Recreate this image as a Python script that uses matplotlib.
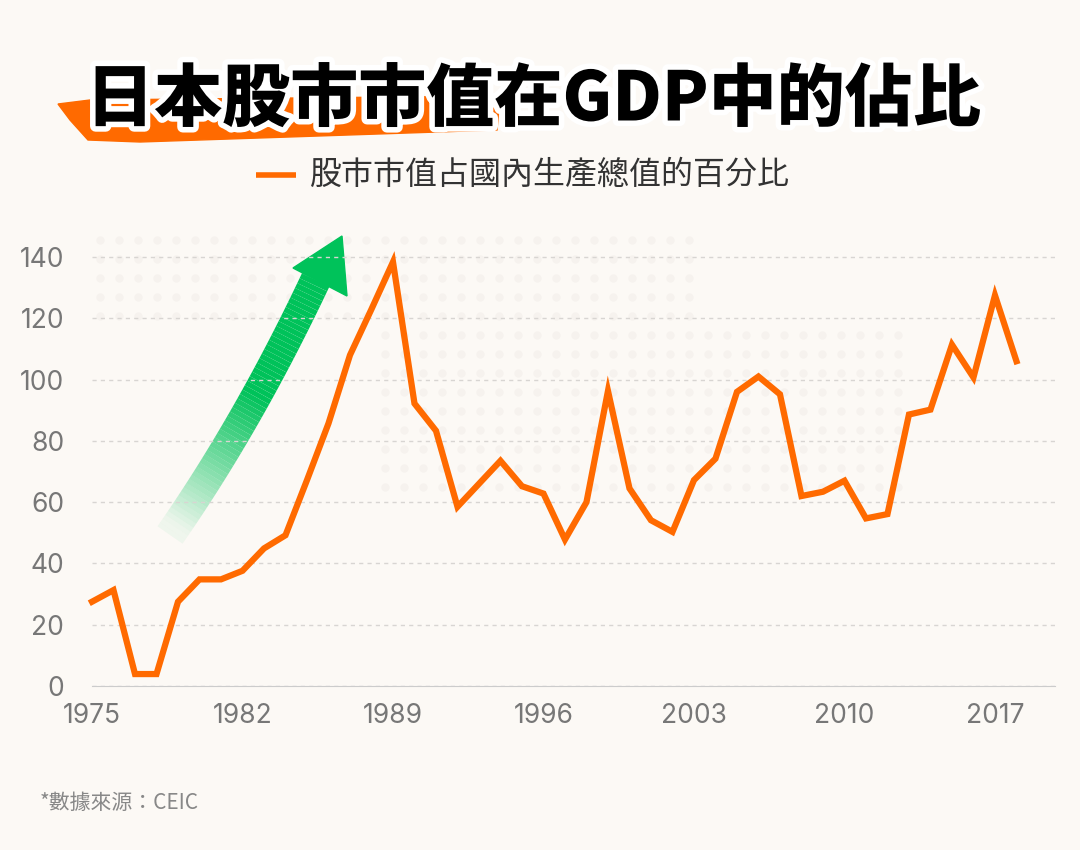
import matplotlib
matplotlib.use("Agg")
import matplotlib.pyplot as plt
import matplotlib.patheffects as pe
from matplotlib import font_manager
import numpy as np
from matplotlib.patches import Polygon

years = list(range(1975, 2019))
values = [27.5, 31.3, 3.9, 3.9, 27.5, 34.8, 34.8, 37.6, 44.9, 49.2,
          67.2, 85.7, 108.0, 123.0, 138.4, 92.2, 83.3, 58.5, 66.0, 73.5,
          65.2, 62.8, 47.8, 60.0, 96.3, 64.5, 54.1, 50.3, 67.2, 74.2,
          96.0, 101.0, 95.2, 62.0, 63.4, 67.0, 54.7, 56.1, 88.6, 90.2,
          111.4, 100.7, 127.5, 106.0]
y_ticks = [0, 20, 40, 60, 80, 100, 120, 140]
x_tick_years = [1975, 1982, 1989, 1996, 2003, 2010, 2017]
title = "日本股市市值在GDP中的佔比"
legend_label = "股市市值占國內生產總值的百分比"
source = "*數據來源：CEIC"

W, H = 1080, 850
BG = "#fcf9f5"
ORANGE = "#ff6a00"
fig = plt.figure(figsize=(W/100, H/100), dpi=100, facecolor=BG)
names = {f.name for f in font_manager.fontManager.ttflist}
font = [n for n in ["Noto Sans CJK TC", "Noto Sans CJK JP", "Noto Sans CJK SC", "Noto Sans CJK KR"] if n in names] + ["DejaVu Sans"]

ov = fig.add_axes([0, 0, 1, 1], zorder=0)
ov.set_xlim(0, W); ov.set_ylim(H, 0); ov.axis("off")
ov.patch.set_alpha(0)
for yy in range(240, 520, 19):
    for xx in range(100, 1000, 19):
        if (yy < 330 and xx < 700) or (yy >= 330 and 380 < xx < 900 and yy < 500):
            ov.plot(xx, yy, "o", ms=5, color="#f6f2ee", zorder=0)

ax_l, ax_r, ax_top, ax_bot = 92, 1055, 240, 686
ax = fig.add_axes([ax_l/W, 1-ax_bot/H, (ax_r-ax_l)/W, (ax_bot-ax_top)/H], zorder=2)
ax.patch.set_alpha(0)
step = 21.7
x0 = 1975 + 9/step
ax.set_xlim(x0, x0 + (ax_r-ax_l)/step)
ax.set_ylim(0, (ax_bot-ax_top)/3.064)
ax.plot(years, values, color=ORANGE, lw=4.5, solid_joinstyle="miter", clip_on=False, zorder=3)
ax.set_yticks(y_ticks)
ax.set_xticks(x_tick_years)
ax.set_xticklabels([str(y) for y in x_tick_years])
ax.grid(axis="y", color="#d8d5d2", ls=(0, (3, 3)), lw=1)
for s in ["top", "right", "left"]:
    ax.spines[s].set_visible(False)
ax.spines["bottom"].set_color("#cccccc")
ax.tick_params(length=0, labelsize=19, labelcolor="#777777")
ax.tick_params(axis="y", pad=20)
ax.tick_params(axis="x", pad=12)
for t in ax.get_xticklabels() + ax.get_yticklabels():
    t.set_fontfamily("Inter")

def bez(t):
    p0 = np.array([170, 535]); p1 = np.array([250, 420]); p2 = np.array([318, 275])
    return ((1-t)**2)[:, None]*p0 + (2*(1-t)*t)[:, None]*p1 + (t**2)[:, None]*p2
ts = np.linspace(0, 1, 60)
pts = bez(ts)
for i in range(len(ts)-1):
    a = min(1.0, ts[i]*1.8)
    ov.plot(pts[i:i+2, 0], pts[i:i+2, 1], color="#00c25a", alpha=max(a, 0.05),
            lw=22, solid_capstyle="butt", zorder=1)
ov.add_patch(Polygon([[293, 268], [342, 236], [347, 296]], closed=True,
                     color="#00c25a", zorder=1))

ov.add_patch(Polygon([[58, 104], [90, 100], [500, 96], [497, 130], [140, 142], [88, 140], [70, 120]],
                     closed=True, color=ORANGE, zorder=1))
t = ov.text(86, 100, title, fontsize=49, fontweight="black", family=font,
            color="black", va="center", ha="left", zorder=5)
t.set_path_effects([pe.withStroke(linewidth=8, foreground="white")])

ov.plot([256, 296], [175, 175], color=ORANGE, lw=4, solid_capstyle="butt", zorder=5)
ov.text(310, 175, legend_label, fontsize=23, family=font, color="#333333",
        va="center", ha="left", zorder=5)

ov.text(40, 803, source, fontsize=15, family=font, color="#888888", va="center", ha="left")

fig.savefig("out.png", dpi=100, facecolor=BG)
